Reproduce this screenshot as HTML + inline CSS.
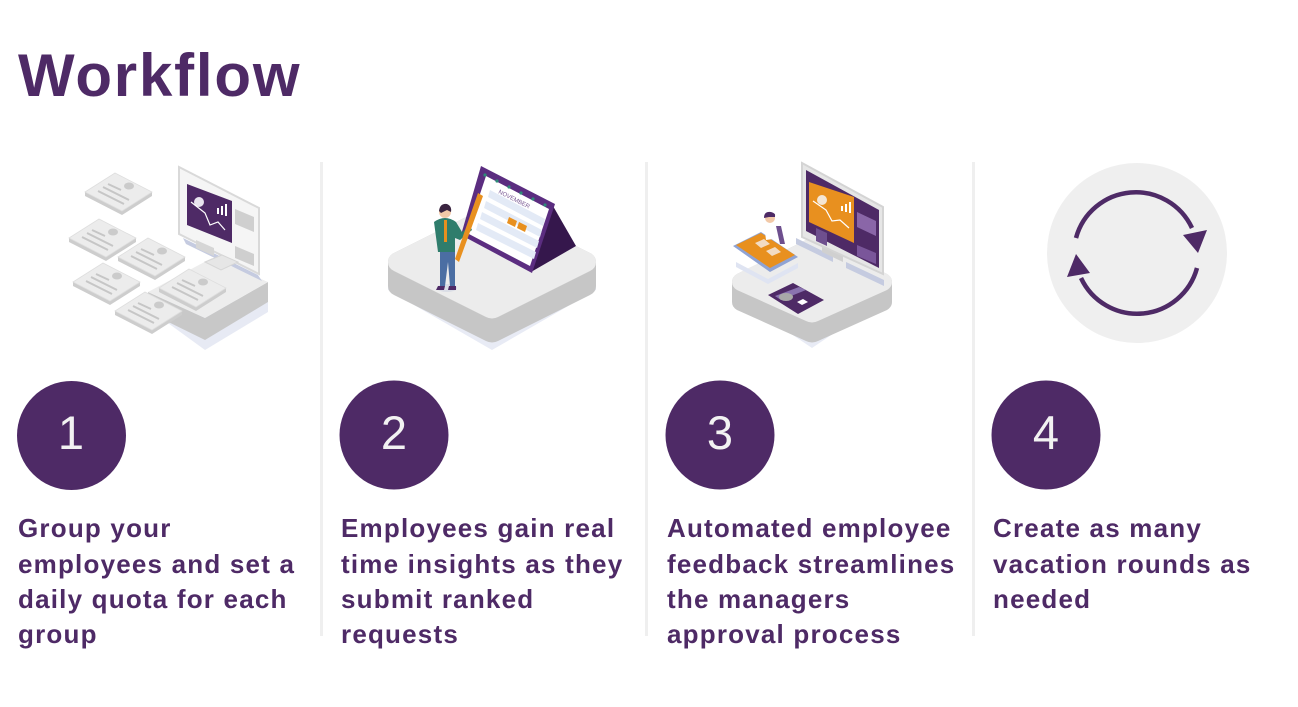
<!DOCTYPE html>
<html><head><meta charset="utf-8"><style>
html,body{margin:0;padding:0;background:#fff;}
svg{display:block;}
text{font-family:"Liberation Sans",Arial,sans-serif;}
</style></head><body>
<svg width="1298" height="707" viewBox="0 0 1298 707" xmlns="http://www.w3.org/2000/svg">
<defs>
<g id="card">
  <polygon points="0,19 37,38 67,19 67,23 37,42 0,23" fill="#cdcdcd"/>
  <polygon points="0,19 30,0 67,19 37,38" fill="#ececec" stroke="#dedede" stroke-width="0.8"/>
  <ellipse cx="44" cy="13" rx="5" ry="3.5" fill="#cbcbcb"/>
  <line x1="18" y1="14" x2="44" y2="27" stroke="#c6c6c6" stroke-width="2"/>
  <line x1="13" y1="18" x2="39" y2="31" stroke="#c6c6c6" stroke-width="2"/>
  <line x1="23" y1="11" x2="36" y2="17" stroke="#c6c6c6" stroke-width="2"/>
</g>
</defs>
<rect width="1298" height="707" fill="#ffffff"/>

<!-- Title -->
<text x="18" y="96" font-size="60" font-weight="bold" letter-spacing="1.8" fill="#4e2a66">Workflow</text>

<!-- Dividers -->
<rect x="320" y="162" width="3" height="474" fill="#efefef"/>
<rect x="645" y="162" width="3" height="474" fill="#efefef"/>
<rect x="972" y="162" width="3" height="474" fill="#efefef"/>

<!-- Illustration 1 -->
<polygon points="150,310 205,350 268,312 268,300 150,300" fill="#e7eaf4"/>
<polygon points="148,292 205,318 268,282 268,302 205,340 148,312" fill="#c8c8c8"/>
<polygon points="148,292 212,258 268,282 205,318" fill="#ededed"/>
<polygon points="183,238 258,275 262,281 186,244" fill="#c5cbe0"/>
<polygon points="179,167 259,208 259,274 179,234" fill="#f5f5f5" stroke="#d9d9d9" stroke-width="2"/>
<polygon points="187,184 232,201 232,243 187,225" fill="#4e2a66"/>
<circle cx="199" cy="202" r="5" fill="#e9e4ef"/>
<polyline points="191,202 205,213 210,225 218,222 225,230" fill="none" stroke="#fff" stroke-width="1.2"/>
<rect x="217" y="208" width="2" height="6" fill="#fff"/><rect x="221" y="206" width="2" height="9" fill="#fff"/><rect x="225" y="204" width="2" height="12" fill="#fff"/>
<polygon points="235,209 254,217 254,232 235,224" fill="#cfcfcf"/>
<polygon points="235,246 254,254 254,266 235,258" fill="#cfcfcf"/>
<polygon points="196,240 214,248 214,256 196,248" fill="#d6d6d6"/>
<polygon points="205,262 222,255 238,262 221,270" fill="#e6e6e6" stroke="#d6d6d6"/>
<use href="#card" x="85" y="173"/>
<use href="#card" x="69" y="219"/>
<use href="#card" x="118" y="238"/>
<use href="#card" x="73" y="263"/>
<use href="#card" x="159" y="269"/>
<use href="#card" x="115" y="292"/>

<!-- Illustration 2 -->
<polygon points="388,290 492,350 596,290 596,280 388,280" fill="#e8ebf5"/>
<path d="M388,262 Q388,256 394,253 L486,207 Q492,204 498,207 L590,253 Q596,256 596,262 L596,286 Q596,292 590,295 L498,341 Q492,344 486,341 L394,295 Q388,292 388,286 Z" fill="#c6c6c6"/>
<path d="M388,262 Q388,256 394,253 L486,207 Q492,204 498,207 L590,253 Q596,256 596,262 Q596,268 590,271 L498,317 Q492,320 486,317 L394,271 Q388,268 388,262 Z" fill="#ececec"/>
<polygon points="553,206 576,246 531,272" fill="#35174c"/>
<polygon points="481,166 555,204 532,273 461,235" fill="#5b2d80"/>
<polygon points="486,176 549,209 530,266 467,233" fill="#ffffff"/>
<g fill="#e3eaf6">
<polygon points="490,190 545,219 543,226 488,197"/>
<polygon points="486,201 542,230 540,237 484,208"/>
<polygon points="482,212 539,241 537,248 480,219"/>
<polygon points="478,223 536,252 534,259 476,230"/>
</g>
<polygon points="509,217 517,221 515,227 507,223" fill="#e8901f"/>
<polygon points="519,222 527,226 525,232 517,228" fill="#e8901f"/>
<text x="498" y="193" font-size="6" fill="#7a5a95" transform="rotate(27 498 193)">NOVEMBER</text>
<g fill="#2e8a78"><circle cx="485" cy="175" r="1.6"/><circle cx="497" cy="181" r="1.6"/><circle cx="509" cy="187" r="1.6"/><circle cx="521" cy="193" r="1.6"/><circle cx="533" cy="199" r="1.6"/><circle cx="545" cy="205" r="1.6"/></g>
<ellipse cx="447" cy="288" rx="10" ry="4" fill="#dadde6"/>
<polygon points="440,250 455,250 455,286 450,286 448,262 445,286 440,286" fill="#4b6ea3"/>
<path d="M434,222 Q445,214 456,222 L462,232 L470,226 L472,230 L460,240 L455,238 L455,252 L438,252 Z" fill="#2f7d6c"/>
<rect x="444" y="220" width="3" height="22" fill="#e8901f"/>
<circle cx="445" cy="212" r="6" fill="#f2c9a8"/>
<path d="M439,211 Q440,203 447,204 Q452,206 451,212 L447,210 L441,213 Z" fill="#3a2440"/>
<polygon points="478,193 483,196 459,262 455,259" fill="#e8901f"/>
<polygon points="438,286 445,286 444,290 436,290" fill="#4e2a66"/><polygon points="449,286 456,286 456,290 448,290" fill="#4e2a66"/>

<!-- Illustration 3 -->
<polygon points="732,294 812,348 892,294 892,285 732,285" fill="#e8ebf5"/>
<path d="M732,282 Q732,277 737,274 L806,240 Q812,237 818,240 L887,274 Q892,277 892,282 L892,302 Q892,307 887,310 L818,341 Q812,344 806,341 L737,310 Q732,307 732,302 Z" fill="#c6c6c6"/>
<path d="M732,282 Q732,277 737,274 L806,240 Q812,237 818,240 L887,274 Q892,277 892,282 Q892,287 887,290 L818,321 Q812,324 806,321 L737,290 Q732,287 732,282 Z" fill="#ececec"/>
<polygon points="796,238 833,256 833,262 796,244" fill="#c5cbe0"/>
<polygon points="846,262 884,280 884,286 846,268" fill="#c5cbe0"/>
<polygon points="822,246 843,256 843,262 822,252" fill="#d0d0d0"/>
<polygon points="802,163 883,207 883,274 802,237" fill="#e6e6e6" stroke="#d4d4d4" stroke-width="2"/>
<polygon points="806,170 879,210 879,268 806,231" fill="#4e2a66"/>
<polygon points="809,182 854,197 854,243 809,222" fill="#e8901f"/>
<circle cx="822" cy="200" r="5" fill="#f4e6d4"/>
<polyline points="813,201 826,210 832,221 840,220 849,228" fill="none" stroke="#fff" stroke-width="1.2"/>
<rect x="841" y="206" width="2" height="5" fill="#fff"/><rect x="845" y="204" width="2" height="8" fill="#fff"/><rect x="849" y="202" width="2" height="11" fill="#fff"/>
<polygon points="857,212 876,221 876,236 857,227" fill="#8a66a8"/>
<polygon points="857,245 876,253 876,264 857,256" fill="#7a569a"/>
<polygon points="816,228 827,233 827,246 816,241" fill="#6e4f8e"/>
<polygon points="736,262 768,279 798,263 798,268 768,284 736,267" fill="#dfe4f2"/>
<polygon points="733,246 761,232 798,257 770,272" fill="#8fa3d4"/>
<polygon points="736,245 761,233 795,255 770,268" fill="#e8901f"/>
<polygon points="755,243 764,239 770,244 761,248" fill="#f2dcc4"/>
<polygon points="766,251 775,247 781,252 772,256" fill="#f2dcc4"/>
<circle cx="770" cy="218" r="5" fill="#f2c9a8"/>
<path d="M764,218 Q764,211 771,212 Q776,213 775,217 L769,217 Z" fill="#4e2a66"/>
<polygon points="764,224 778,224 780,238 766,240" fill="#ffffff"/>
<polygon points="776,226 781,226 785,244 780,244" fill="#6e4f8e"/>
<polygon points="768,295 793,283 824,300 798,314" fill="#4e2a66"/>
<polygon points="775,296 799,287 806,290 781,300" fill="#8a73b0"/>
<ellipse cx="786" cy="297" rx="7" ry="4" fill="#a8a8a8"/>
<polygon points="797,302 803,299 808,302 802,305" fill="#ffffff"/>

<!-- Illustration 4 -->
<circle cx="1137" cy="253" r="90" fill="#efefef"/>
<path d="M1076,238 A62,62 0 0 1 1192,228" fill="none" stroke="#4e2a66" stroke-width="4.5"/>
<polygon points="1183,235 1207,230 1198,253" fill="#4e2a66"/>
<path d="M1197,268 A62,62 0 0 1 1081,278" fill="none" stroke="#4e2a66" stroke-width="4.5"/>
<polygon points="1067,277 1076,254 1090,273" fill="#4e2a66"/>

<!-- Number circles -->
<circle cx="71.5" cy="435.5" r="54.5" fill="#4e2a66"/>
<circle cx="394" cy="435" r="54.5" fill="#4e2a66"/>
<circle cx="720" cy="435" r="54.5" fill="#4e2a66"/>
<circle cx="1046" cy="435" r="54.5" fill="#4e2a66"/>
<g font-size="47" fill="#f2f2f2" text-anchor="middle">
<text x="71" y="449">1</text>
<text x="394" y="449">2</text>
<text x="720" y="449">3</text>
<text x="1046" y="449">4</text>
</g>

<!-- Descriptions -->
<g font-size="26" font-weight="bold" letter-spacing="1.2" fill="#4e2a66">
<text x="18" y="537">Group your</text>
<text x="18" y="573">employees and set a</text>
<text x="18" y="608">daily quota for each</text>
<text x="18" y="643">group</text>

<text x="341" y="537">Employees gain real</text>
<text x="341" y="573">time insights as they</text>
<text x="341" y="608">submit ranked</text>
<text x="341" y="643">requests</text>

<text x="667" y="537">Automated employee</text>
<text x="667" y="573">feedback streamlines</text>
<text x="667" y="608">the managers</text>
<text x="667" y="643">approval process</text>

<text x="993" y="537">Create as many</text>
<text x="993" y="573">vacation rounds as</text>
<text x="993" y="608">needed</text>
</g>
</svg>
</body></html>
